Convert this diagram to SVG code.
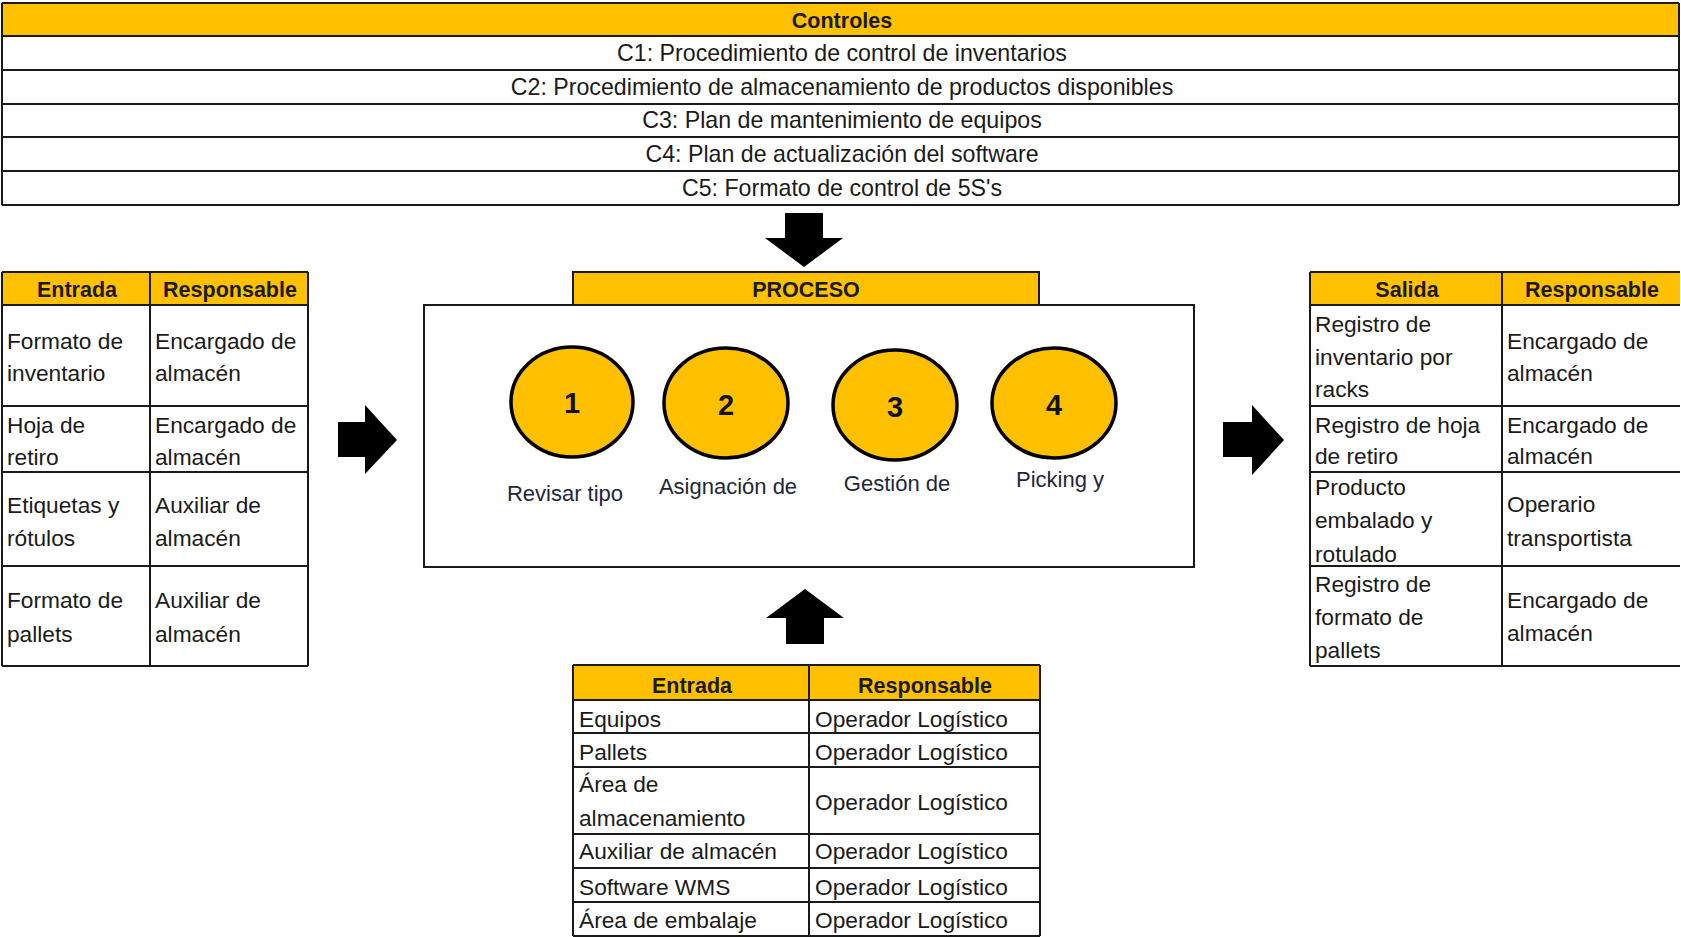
<svg xmlns="http://www.w3.org/2000/svg" width="1681" height="937" viewBox="0 0 1681 937">
  <defs>
    <style>
      text { font-family: "Liberation Sans", Arial, sans-serif; font-size: 22.7px; fill: #1a1a1a; }
      .hd { font-weight: bold; text-anchor: middle; font-size: 21.5px; }
      .mid { text-anchor: middle; font-size: 23.2px; }
      .num { font-weight: bold; font-size: 29px; text-anchor: middle; fill: #111; }
      .lbl { text-anchor: middle; fill: #1f2738; font-size: 22px; }
      .hdr { fill: #FFC000; }
      .grid { stroke: #1a1a1a; stroke-width: 2; fill: none; }
      .step { fill: #FFC000; stroke: #000; stroke-width: 3.5; }
      .arrow { fill: #000; }
    </style>
  </defs>
  <rect width="1681" height="937" fill="#fff"/>

  <!-- Controls table -->
  <g id="controls">
    <rect class="hdr" x="2" y="3" width="1677" height="33"/>
    <path class="grid" d="M2 3H1679M2 36H1679M2 70H1679M2 104H1679M2 137H1679M2 171H1679M2 205H1679M2 3V205M1679 3V205"/>
    <text class="hd" x="842" y="28">Controles</text>
    <text class="mid" x="842" y="61">C1: Procedimiento de control de inventarios</text>
    <text class="mid" x="842" y="95">C2: Procedimiento de almacenamiento de productos disponibles</text>
    <text class="mid" x="842" y="128">C3: Plan de mantenimiento de equipos</text>
    <text class="mid" x="842" y="162">C4: Plan de actualización del software</text>
    <text class="mid" x="842" y="196">C5: Formato de control de 5S's</text>
  </g>

  <!-- Inputs table (left) -->
  <g id="inputs">
    <rect class="hdr" x="2" y="272" width="306" height="33"/>
    <path class="grid" d="M2 272H308M2 305H308M2 406H308M2 472H308M2 566H308M2 666H308M2 272V666M150 272V666M308 272V666"/>
    <text class="hd" x="77" y="297">Entrada</text>
    <text class="hd" x="230" y="297">Responsable</text>
    <text x="7" y="349">Formato de</text>
    <text x="7" y="381">inventario</text>
    <text x="155" y="349">Encargado de</text>
    <text x="155" y="381">almacén</text>
    <text x="7" y="433">Hoja de</text>
    <text x="7" y="465">retiro</text>
    <text x="155" y="433">Encargado de</text>
    <text x="155" y="465">almacén</text>
    <text x="7" y="513">Etiquetas y</text>
    <text x="7" y="546">rótulos</text>
    <text x="155" y="513">Auxiliar de</text>
    <text x="155" y="546">almacén</text>
    <text x="7" y="608">Formato de</text>
    <text x="7" y="642">pallets</text>
    <text x="155" y="608">Auxiliar de</text>
    <text x="155" y="642">almacén</text>
  </g>

  <!-- Process block -->
  <g id="process">
    <rect class="hdr" x="573" y="272" width="466" height="34"/>
    <path class="grid" d="M573 306V272H1039V306"/>
    <text class="hd" x="806" y="297">PROCESO</text>
    <path class="grid" d="M424 305H1194V567H424Z"/>
  </g>

  <g id="step-1">
    <ellipse class="step" cx="572" cy="402" rx="61" ry="55"/>
    <text class="num" x="572" y="413">1</text>
    <text class="lbl" x="565" y="501">Revisar tipo</text>
  </g>
  <g id="step-2">
    <ellipse class="step" cx="726" cy="403" rx="62" ry="55"/>
    <text class="num" x="726" y="415">2</text>
    <text class="lbl" x="728" y="494">Asignación de</text>
  </g>
  <g id="step-3">
    <ellipse class="step" cx="895" cy="405" rx="62" ry="55"/>
    <text class="num" x="895" y="417">3</text>
    <text class="lbl" x="897" y="491">Gestión de</text>
  </g>
  <g id="step-4">
    <ellipse class="step" cx="1054" cy="403" rx="62" ry="55"/>
    <text class="num" x="1054" y="415">4</text>
    <text class="lbl" x="1060" y="487">Picking y</text>
  </g>

  <!-- Outputs table (right) -->
  <g id="outputs">
    <rect class="hdr" x="1310" y="272" width="370" height="33"/>
    <path class="grid" d="M1310 272H1680M1310 305H1680M1310 406H1680M1310 472H1680M1310 566H1680M1310 666H1680M1310 272V666M1502 272V666"/>
    <text class="hd" x="1407" y="297">Salida</text>
    <text class="hd" x="1592" y="297">Responsable</text>
    <text x="1315" y="332">Registro de</text>
    <text x="1315" y="365">inventario por</text>
    <text x="1315" y="397">racks</text>
    <text x="1507" y="349">Encargado de</text>
    <text x="1507" y="381">almacén</text>
    <text x="1315" y="433">Registro de hoja</text>
    <text x="1315" y="464">de retiro</text>
    <text x="1507" y="433">Encargado de</text>
    <text x="1507" y="464">almacén</text>
    <text x="1315" y="495">Producto</text>
    <text x="1315" y="528">embalado y</text>
    <text x="1315" y="562">rotulado</text>
    <text x="1507" y="512">Operario</text>
    <text x="1507" y="546">transportista</text>
    <text x="1315" y="592">Registro de</text>
    <text x="1315" y="625">formato de</text>
    <text x="1315" y="658">pallets</text>
    <text x="1507" y="608">Encargado de</text>
    <text x="1507" y="641">almacén</text>
  </g>

  <!-- Resources table (bottom) -->
  <g id="resources">
    <rect class="hdr" x="573" y="665" width="467" height="35"/>
    <path class="grid" d="M573 665H1040M573 700H1040M573 733H1040M573 767H1040M573 834H1040M573 868H1040M573 902H1040M573 936H1040M573 665V936M809 665V936M1040 665V936"/>
    <text class="hd" x="692" y="693">Entrada</text>
    <text class="hd" x="925" y="693">Responsable</text>
    <text x="579" y="727">Equipos</text>
    <text x="815" y="727">Operador Logístico</text>
    <text x="579" y="760">Pallets</text>
    <text x="815" y="760">Operador Logístico</text>
    <text x="579" y="792">Área de</text>
    <text x="579" y="826">almacenamiento</text>
    <text x="815" y="810">Operador Logístico</text>
    <text x="579" y="859">Auxiliar de almacén</text>
    <text x="815" y="859">Operador Logístico</text>
    <text x="579" y="895">Software WMS</text>
    <text x="815" y="895">Operador Logístico</text>
    <text x="579" y="928">Área de embalaje</text>
    <text x="815" y="928">Operador Logístico</text>
  </g>

  <!-- Block arrows feeding the process -->
  <g id="connectors">
    <polygon class="arrow" points="785,213 823,213 823,238 843,238 804,267 765,238 785,238"/>
    <polygon class="arrow" points="338,422 365,422 365,405 397,440 365,474 365,457 338,457"/>
    <polygon class="arrow" points="1223,422 1252,422 1252,405 1284,440 1252,475 1252,457 1223,457"/>
    <polygon class="arrow" points="805,589 844,618 824,618 824,644 786,644 786,618 766,618"/>
  </g>
</svg>
